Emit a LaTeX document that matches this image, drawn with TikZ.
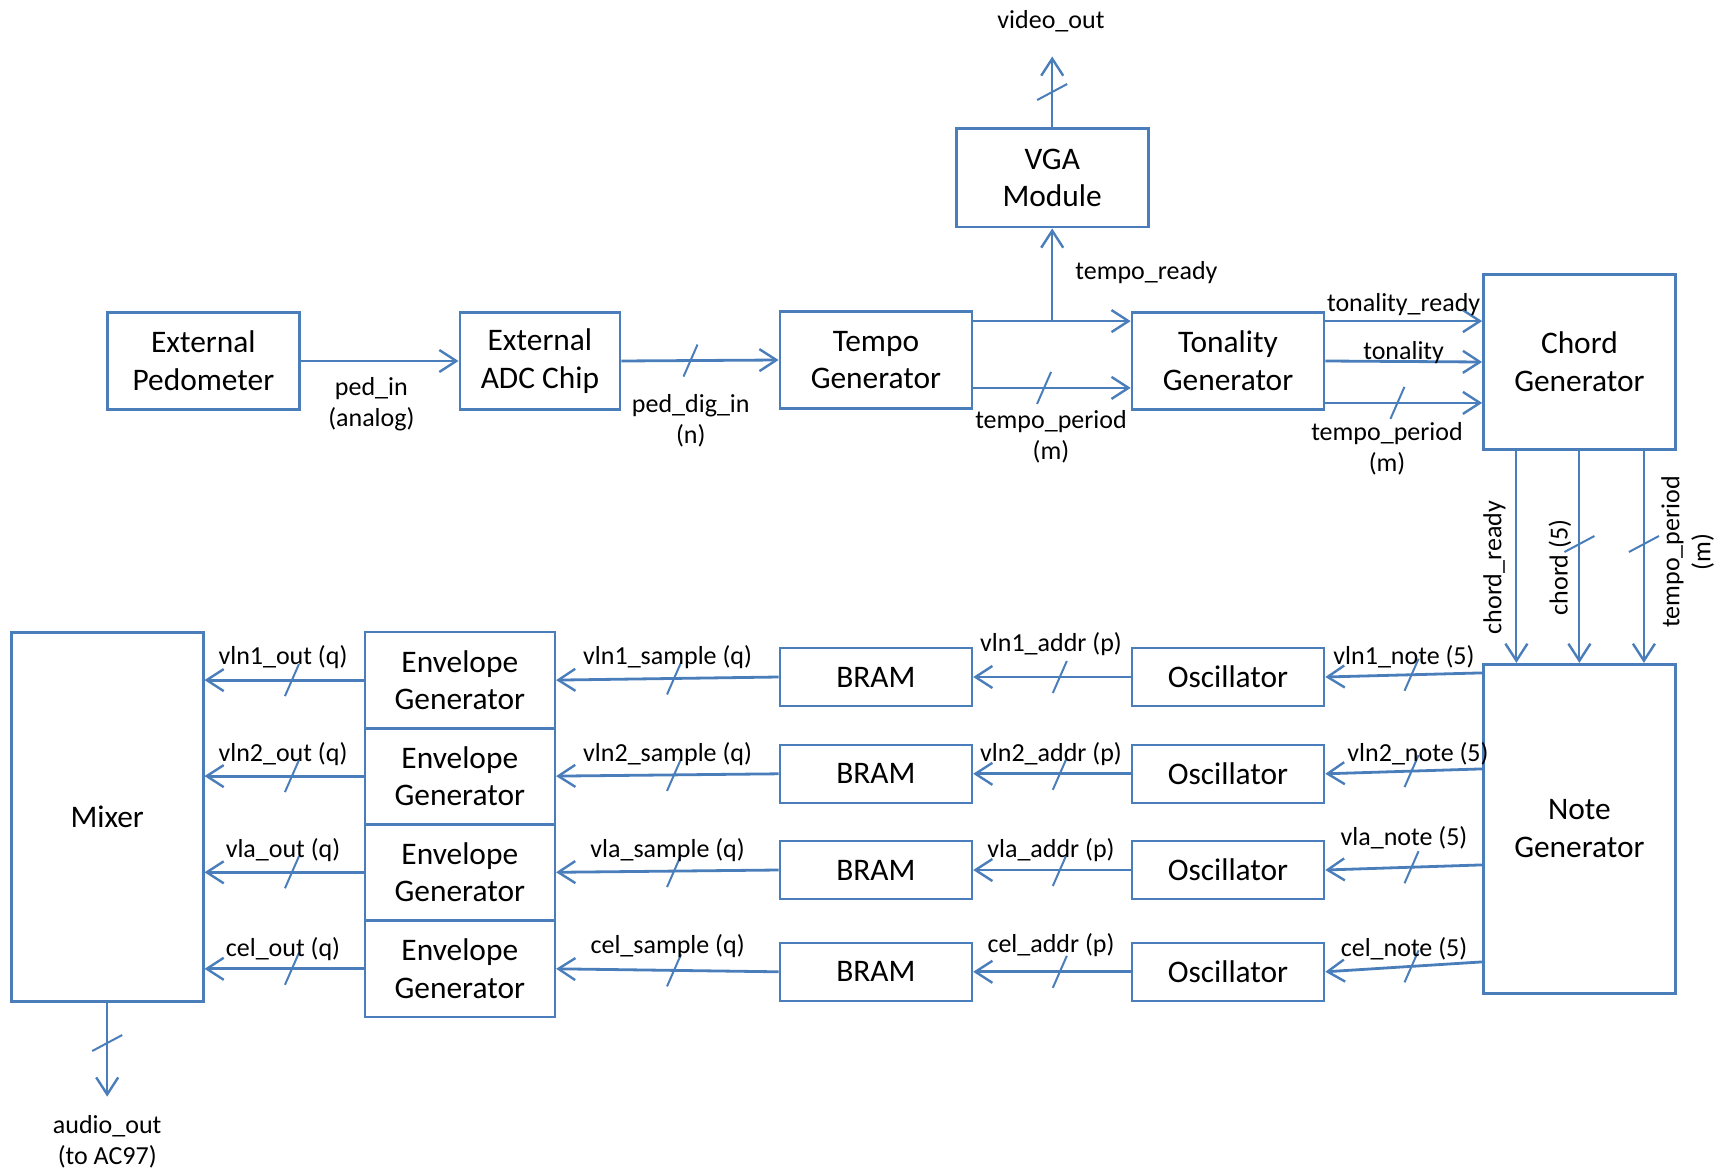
\documentclass[tikz,border=0pt]{standalone}
\usepackage{fontspec}
\setmainfont{Carlito}
\usetikzlibrary{arrows.meta}
\usetikzlibrary{calc}
\definecolor{blockblue}{RGB}{74,126,187}
\newcommand{\hbus}[1]{\draw[bus mark] (#1) +(-7,16) -- +(7,-16);}
\newcommand{\vbus}[1]{\draw[bus mark] (#1) +(-15,8) -- +(15,-8);}

\begin{document}
\begin{tikzpicture}[x=0.5pt, y=-0.5pt,
    block/.style={draw=blockblue, line width=1.3pt, align=center, inner sep=0pt, minimum width=96pt, minimum height=48.6pt, font=\fontsize{15.7}{18.8}\selectfont},
    sig/.style={draw=blockblue, line width=1.4pt, -{Straight Barb[length=8.5pt, width=11pt, line width=1.2pt]}},
    thin sig/.style={sig, line width=1pt},
    bus mark/.style={draw=blockblue, line width=1pt},
    side label/.style={font=\fontsize{13}{15.5}\selectfont, align=center, inner sep=0pt},
    sig label/.style={side label, yshift=-1pt},
    ]
  \useasboundingbox (0,0) rectangle (1733,1171);

  \node[block] (ped) at (203.4,361) {External\\Pedometer};
  \node[block, minimum width=80.1pt] (adc) at (539.9,361) {External\\ADC Chip};
  \node[block] (tempo) at (875.9,360) {Tempo\\Generator};
  \node[block, minimum height=49.2pt] (vga) at (1052.2,178) {VGA\\Module};
  \node[block] (tonal) at (1228,361) {Tonality\\Generator};
  \node[block, minimum height=87.3pt] (chord) at (1579.4,362) {Chord\\Generator};
  \node[block, minimum height=164.5pt] (note) at (1579.4,828.7) {Note\\Generator};
  \node[block, minimum height=184.3pt] (mixer) at (107.2,817) {Mixer};

  \foreach \i/\y in {1/677, 2/773.8, 3/870, 4/971.8} {
    \node[block, minimum height=29pt] (osc\i) at (1228,\y) {Oscillator};
    \node[block, minimum height=29pt] (bram\i) at (875.9,\y) {BRAM};
  }
  \foreach \i/\y in {1/680.1, 2/776.1, 3/872.3, 4/968.8}
    \node[block, minimum width=95pt, minimum height=48.2pt] (env\i) at (459.8,\y) {Envelope\\Generator};

  % pedometer to tempo
  \draw[sig] (ped.east) -- (adc.west);
  \draw[sig] (adc.east) -- (tempo.west);
  \hbus{$(adc.east)!0.44!(tempo.west)$}

  % tempo to tonality and vga
  \coordinate (tr) at ($(tempo.north east)+(0,11)$);
  \coordinate (tp) at ($(tempo.south east)+(0,-22)$);
  \coordinate (tp2) at (tonal.west |- tp);
  \draw[sig] (tr) -- (tonal.west |- tr);
  \draw[sig] (tp) -- (tp2);
  \hbus{$(tp)!0.45!(tp2)$}
  \draw[thin sig] (vga.south |- tr) -- (vga.south);
  \coordinate (vout) at ($(vga.north)+(0,-71)$);
  \draw[thin sig] (vga.north) -- (vout);
  \vbus{$(vga.north)!0.5!(vout)$}

  % tonality to chord
  \coordinate (tonr) at ($(tonal.north east)+(0,10)$);
  \coordinate (tonp) at ($(tonal.south east)+(0,-8)$);
  \coordinate (tonp2) at (chord.west |- tonp);
  \draw[sig] (tonr) -- (chord.west |- tonr);
  \draw[sig] (tonal.east) -- (chord.west);
  \draw[sig] (tonp) -- (tonp2);
  \hbus{$(tonp)!0.46!(tonp2)$}

  % chord to note
  \foreach \k/\dx in {a/-63, b/0, c/64.5} {
    \coordinate (cs\k) at ($(chord.south)+(\dx,0)$);
    \coordinate (nn\k) at ($(note.north)+(\dx,0)$);
    \draw[thin sig] (cs\k) -- (nn\k);
  }
  \vbus{$(csb)!0.44!(nnb)$}
  \vbus{$(csc)!0.44!(nnc)$}

  % voices
  \foreach \i/\n in {1/10, 2/106, 3/202, 4/299} {
    \coordinate (nt\i) at ($(note.north west)+(0,\n)$);
    \coordinate (mx\i) at (mixer.east |- env\i.west);
    \draw[sig] (nt\i) -- (osc\i.east);
    \draw[sig] (osc\i.west) -- (bram\i.east);
    \draw[sig] (bram\i.west) -- (env\i.east);
    \draw[sig] (env\i.west) -- (mx\i);
    \hbus{$(nt\i)!0.45!(osc\i.east)$}
    \hbus{$(osc\i.west)!0.45!(bram\i.east)$}
    \hbus{$(bram\i.west)!0.47!(env\i.east)$}
    \hbus{$(env\i.west)!0.45!(mx\i)$}
  }

  % mixer out
  \coordinate (aout) at ($(mixer.south)+(0,94)$);
  \draw[thin sig] (mixer.south) -- (aout);
  \vbus{$(mixer.south)!0.43!(aout)$}

  % labels
  \node[sig label] (lpedin) at (371.4,402.3) {ped\_in\\(analog)};
  \node[sig label] (lpeddig) at (690.8,419) {ped\_dig\_in\\(n)};
  \node[sig label] (ltpa) at (1051,434.4) {tempo\_period\\(m)};
  \node[sig label, anchor=west] (ltr) at (1075,270.8) {tempo\_ready};
  \node[sig label] (ltonr) at (1403.6,302.8) {tonality\_ready};
  \node[sig label] (lton) at (1403.6,350.4) {tonality};
  \node[sig label] (ltpb) at (1387,446.6) {tempo\_period\\(m)};
  \node[sig label] (lvid) at (1051,18.8) {video\_out};
  \node[sig label] (laud) at (107.2,1139.5) {audio\_out\\(to AC97)};
  \node[side label, rotate=90] (lcr) at (1494.5,567.5) {chord\_ready};
  \node[side label, rotate=90] (lch) at (1560,567.5) {chord (5)};
  \node[side label, rotate=90] (ltpc) at (1687.5,552) {tempo\_period\\(m)};

  \foreach \i/\nm/\oy/\sy/\ay/\nx/\ny in {1/vln1/655/655/642/1404/655, 2/vln2/752/752/752/1418/752, 3/vla/848/848/848/1404/836, 4/cel/947/944/943/1404/947} {
    \node[sig label] (out\i) at (283,\oy) {\nm\_out (q)};
    \node[sig label] (smp\i) at (667.6,\sy) {\nm\_sample (q)};
    \node[sig label] (adr\i) at (1051,\ay) {\nm\_addr (p)};
    \node[sig label] (nte\i) at (\nx,\ny) {\nm\_note (5)};
  }
\end{tikzpicture}
\end{document}
